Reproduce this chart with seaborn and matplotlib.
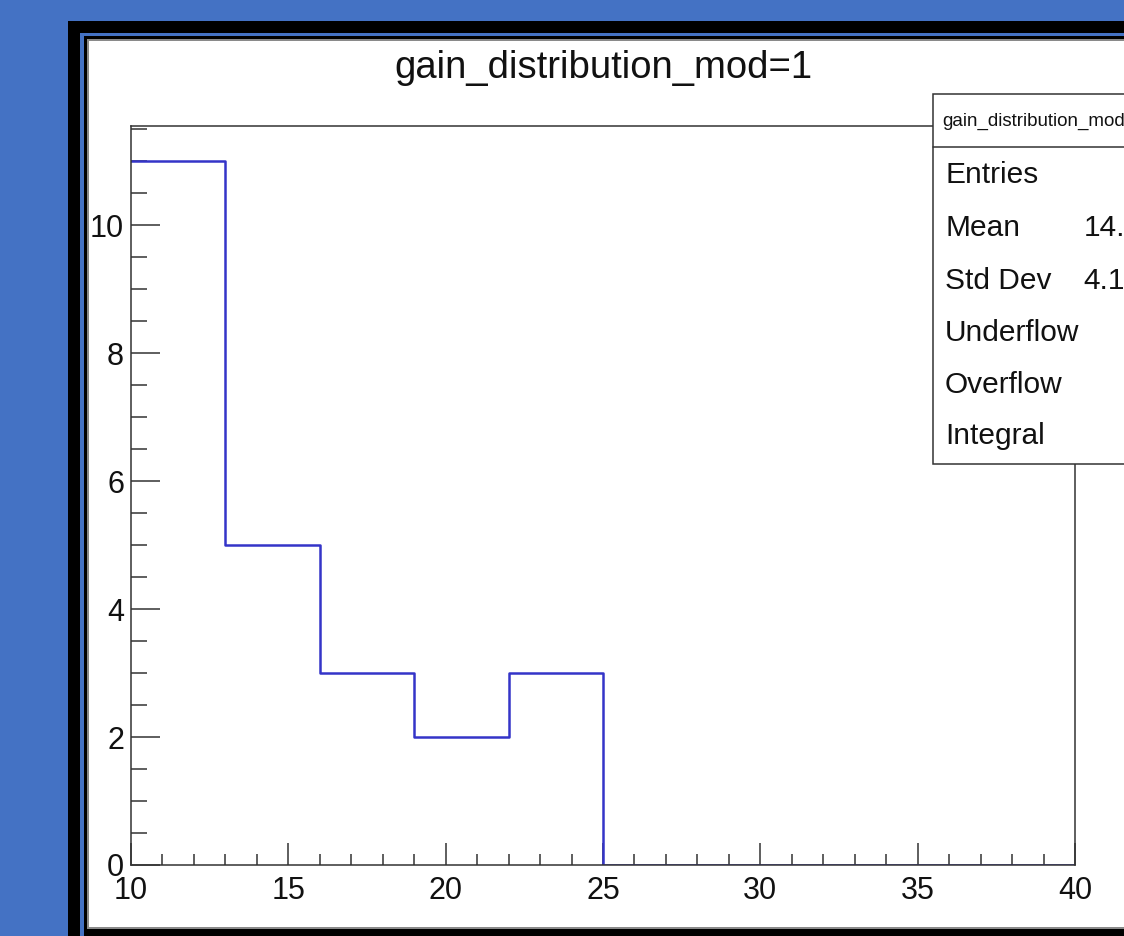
# ROOT-style histogram: gain_distribution_mod=1

import numpy as np
import matplotlib
matplotlib.use("Agg")
import matplotlib.pyplot as plt
from matplotlib.patches import Rectangle
from matplotlib.lines import Line2D
from matplotlib.ticker import MultipleLocator
import seaborn as sns

bin_edges = [10, 13, 16, 19, 22, 25, 28, 31, 34, 37, 40]
bin_counts = [11, 5, 3, 2, 3, 0, 0, 0, 0, 0]
title = "gain_distribution_mod=1"
stat_names = ["Entries", "Mean", "Std Dev", "Underflow", "Overflow", "Integral"]
stat_values = ["24", "14.62", "4.138", "0", "0", "24"]

sns.set_style("ticks")
plt.rcParams['font.family'] = ['Liberation Sans', 'DejaVu Sans']

W, H = 1124, 936
fig = plt.figure(figsize=(W / 100, H / 100), dpi=100)
fig.patch.set_facecolor("#4472c4")


def fx(x):
    return x / W


def fy(y):
    return 1 - y / H


def frame_rect(x0, y0, x1, y1, **kw):
    r = Rectangle((fx(x0), fy(y1)), fx(x1) - fx(x0), fy(y0) - fy(y1),
                  transform=fig.transFigure, **kw)
    fig.add_artist(r)
    return r


# outer frame decoration
frame_rect(68, 21, 1130, 940, facecolor="black", edgecolor="none", zorder=-5)
frame_rect(80, 33, 1130, 940, facecolor="#4472c4", edgecolor="none", zorder=-4)
frame_rect(84, 36, 1130, 940, facecolor="black", edgecolor="none", zorder=-3)
frame_rect(87, 39, 1130, 929, facecolor="#8a8a8a", edgecolor="none", zorder=-2)
frame_rect(89, 41, 1130, 927, facecolor="white", edgecolor="none", zorder=-1)

ax = fig.add_axes([fx(131), fy(865), fx(1075) - fx(131), fy(126) - fy(865)])
ax.set_facecolor("none")

centers = [(a + b) / 2 for a, b in zip(bin_edges[:-1], bin_edges[1:])]
sns.histplot(x=centers, weights=bin_counts, bins=bin_edges, element="step",
             fill=False, color="#3434c8", linewidth=1.8, ax=ax)

ax.set_xlim(10, 40)
ax.set_ylim(0, 11.55)
ax.set_xlabel("")
ax.set_ylabel("")
ax.xaxis.set_major_locator(MultipleLocator(5))
ax.xaxis.set_minor_locator(MultipleLocator(1))
ax.yaxis.set_major_locator(MultipleLocator(2))
ax.yaxis.set_minor_locator(MultipleLocator(0.5))
ax.tick_params(axis="x", which="major", direction="in", length=16, width=1.1,
               color="#333333", labelsize=22, pad=8, top=False)
ax.tick_params(axis="x", which="minor", direction="in", length=8, width=1.1,
               color="#333333", top=False)
ax.tick_params(axis="y", which="major", direction="in", length=21, width=1.1,
               color="#333333", labelsize=22, pad=5, right=False)
ax.tick_params(axis="y", which="minor", direction="in", length=11.5, width=1.1,
               color="#333333", right=False)
for s in ax.spines.values():
    s.set_visible(True)
    s.set_color("#333333")
    s.set_linewidth(1.1)
for lab in ax.get_xticklabels() + ax.get_yticklabels():
    lab.set_color("#111111")

fig.text(fx(603), fy(68), title, ha="center", va="center", fontsize=27.5,
         color="#111111")

# stats box (cut off at the right edge, as in the reference)
frame_rect(933, 94, 1200, 464, facecolor="white", edgecolor="#333333",
           linewidth=1.1, zorder=5)
fig.add_artist(Line2D([fx(933), fx(1200)], [fy(147), fy(147)],
                      transform=fig.transFigure, color="#333333", linewidth=1.1, zorder=6))
fig.text(fx(942), fy(121), "gain_distribution_mod=1", ha="left", va="center",
         fontsize=13.5, color="#111111", zorder=7)
row_y = [175, 228, 281, 333, 385, 436]
for name, val, y in zip(stat_names, stat_values, row_y):
    fig.text(fx(945), fy(y), name, ha="left", va="center", fontsize=21.5,
             color="#111111", zorder=7)
    fig.text(fx(1158), fy(y), val, ha="right", va="center", fontsize=21.5,
             color="#111111", zorder=7)

fig.savefig("out.png", dpi=100)
